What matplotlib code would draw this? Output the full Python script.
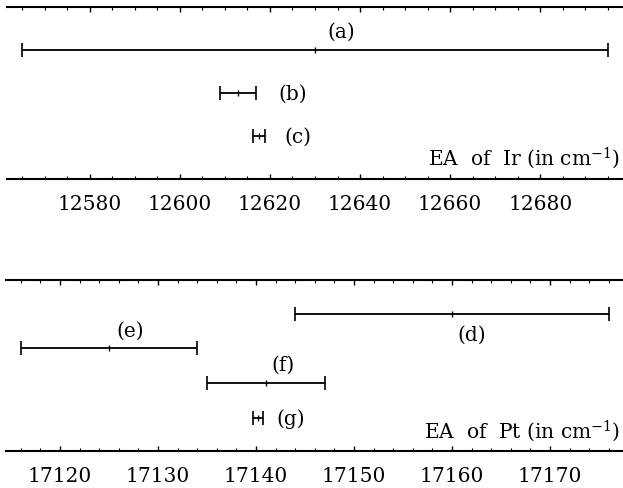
import matplotlib
matplotlib.use("Agg")
import matplotlib.pyplot as plt
from matplotlib.ticker import MultipleLocator

# ---- data ----
ir_labels = ["(a)", "(b)", "(c)"]
ir_values = [12630.0, 12613.0, 12617.6]
ir_errors = [65.0, 4.0, 1.3]
ir_ticks = [12580, 12600, 12620, 12640, 12660, 12680]

pt_labels = ["(d)", "(e)", "(f)", "(g)"]
pt_values = [17160.0, 17125.0, 17141.0, 17140.2]
pt_errors = [16.0, 9.0, 6.0, 0.5]
pt_ticks = [17120, 17130, 17140, 17150, 17160, 17170]

# ---- layout (axes-fraction rows / label spots) ----
ir_rows = [0.753, 0.499, 0.249]
ir_label_pos = [(0.542, 0.862), (0.463, 0.501), (0.472, 0.250)]
pt_rows = [0.799, 0.600, 0.394, 0.189]
pt_label_pos = [(0.755, 0.682), (0.201, 0.706), (0.449, 0.507), (0.462, 0.191)]

plt.rcParams["font.family"] = ["DejaVu Serif"]
plt.rcParams["mathtext.fontset"] = "dejavuserif"

W, H = 623, 489
fig = plt.figure(figsize=(W / 100, H / 100), dpi=100)

def make_ax(left_px, top_px, bottom_px, xlim, ticks, minor):
    ax = fig.add_axes([left_px / W, 1 - bottom_px / H,
                       1 - left_px / W, (bottom_px - top_px) / H])
    ax.set_xlim(*xlim)
    ax.set_ylim(0, 1)
    for s in ("left", "right"):
        ax.spines[s].set_visible(False)
    for s in ("top", "bottom"):
        ax.spines[s].set_linewidth(1.5)
    ax.set_yticks([])
    ax.set_xticks(ticks)
    ax.set_xticklabels([str(t) for t in ticks])
    ax.xaxis.set_minor_locator(MultipleLocator(minor))
    ax.tick_params(axis="x", which="major", direction="in", top=True,
                   length=3.5, width=1.0, pad=11, labelsize=14.5)
    ax.tick_params(axis="x", which="minor", direction="in", top=True,
                   length=2, width=0.8)
    return ax

def draw_bars(ax, values, errors, rows, labels, label_pos):
    for v, e, r, lab, (lx, ly) in zip(values, errors, rows, labels, label_pos):
        ax.errorbar([v], [r], xerr=[e], fmt="none", ecolor="black",
                    elinewidth=1.3, capsize=5.2, capthick=1.2)
        ax.plot([v], [r], marker="|", color="black", markersize=4,
                markeredgewidth=1.0)
        ax.text(lx, ly, lab, transform=ax.transAxes, ha="center",
                va="center", fontsize=14.5)

ax1 = make_ax(7, 8.3, 180, (12561.6, 12698.4), ir_ticks, 5)
draw_bars(ax1, ir_values, ir_errors, ir_rows, ir_labels, ir_label_pos)
ax1.text(0.995, 0.087, "EA  of  Ir (in cm$^{\\mathregular{-1}}$)",
         transform=ax1.transAxes, ha="right", va="baseline", fontsize=14.5)

ax2 = make_ax(6, 280.7, 451.7, (17114.5, 17177.45), pt_ticks, 2)
draw_bars(ax2, pt_values, pt_errors, pt_rows, pt_labels, pt_label_pos)
ax2.text(0.995, 0.080, "EA  of  Pt (in cm$^{\\mathregular{-1}}$)",
         transform=ax2.transAxes, ha="right", va="baseline", fontsize=14.5)

fig.savefig("out.png", dpi=100)
